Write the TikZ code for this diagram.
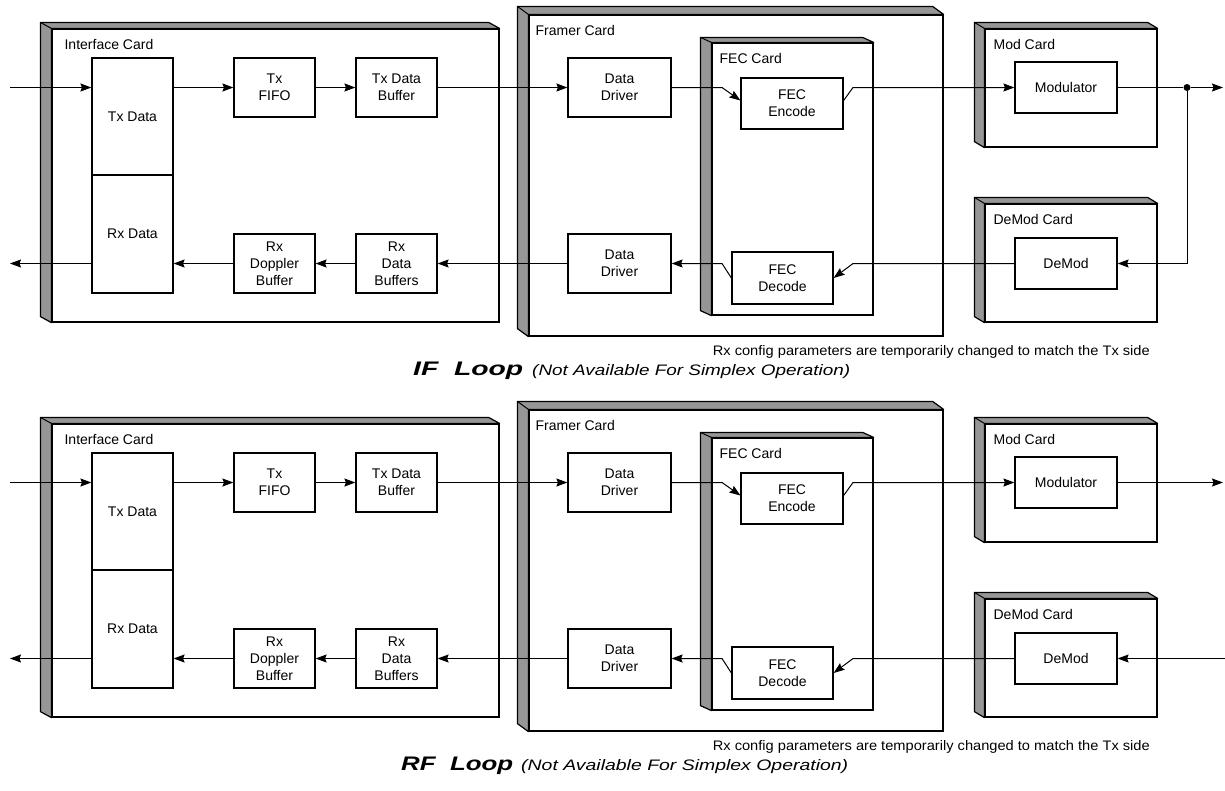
\documentclass[tikz,border=0pt]{standalone}
\usepackage{fontspec}
\setmainfont{Liberation Sans}
\usetikzlibrary{arrows.meta,calc}
\definecolor{cardgray}{RGB}{150,150,150}
\tikzset{
  cardface/.style={draw, fill=white, line width=1.2pt, inner sep=0pt},
  blk/.style={draw, fill=white, line width=1.2pt, inner sep=0pt, align=center,
    font=\fontsize{14}{17}\selectfont},
  lbl/.style={anchor=west, inner sep=0pt, font=\fontsize{14}{16}\selectfont},
  notetext/.style={anchor=base east, inner sep=0pt},
  titletext/.style={anchor=base west, inner sep=0pt},
  flow/.style={line width=1pt, -{Stealth[length=11pt,width=8pt,inset=1.5pt]}},
  wire/.style={line width=1pt},
  jdot/.style={circle, fill, inner sep=0pt, minimum size=7pt},
}
% #1 name, #2 cx, #3 cy, #4 w, #5 h, #6 dx, #7 dy, #8 label, #9 label x offset
\newcommand\mkcard[9]{%
  \node[cardface, minimum width=#4pt, minimum height=#5pt] (#1) at (#2,#3) {};
  \filldraw[fill=cardgray, line width=1.2pt, line join=round]
    (#1.south west) -- ($(#1.south west)+(-#6,-#7)$) -- ($(#1.north west)+(-#6,-#7)$)
    -- ($(#1.north east)+(-#6,-#7)$) -- (#1.north east) -- (#1.north west) -- cycle;
  \draw[line width=1pt] ($(#1.north west)+(-#6,-#7)$) -- (#1.north west);
  \node[lbl] (#1-lbl) at ($(#1.north west)+(#9,16)$) {#8};
}
% #1 prefix, #2 1=IF loop, #3 title word, #4 title x, #5 title width, #6 sub x, #7 sub width
\newcommand\loopdiagram[7]{%
  \mkcard{#1ic}{275.5}{175.5}{447}{293}{11}{6}{Interface Card}{13}
  \mkcard{#1fc}{736}{175.5}{414}{321}{11}{8}{Framer Card}{7}
  \mkcard{#1fec}{792.5}{179}{161}{272}{11}{5}{FEC Card}{8}
  \mkcard{#1mc}{1071}{88}{172}{118}{10}{6}{Mod Card}{9}
  \mkcard{#1dc}{1071}{263}{172}{118}{10}{6}{DeMod Card}{9}
  % blocks
  \node[blk, minimum width=81pt, minimum height=117pt] (#1tx) at (132.5,116.5) {Tx Data};
  \node[blk, minimum width=81pt, minimum height=118pt] (#1rx) at (132.5,234) {Rx Data};
  \node[blk, minimum width=81pt, minimum height=59pt] (#1fifo) at (274.5,87.5) {Tx\\FIFO};
  \node[blk, minimum width=81pt, minimum height=59pt] (#1txb) at (396.5,87.5) {Tx Data\\Buffer};
  \node[blk, minimum width=81pt, minimum height=59pt] (#1dop) at (274.5,263.5) {Rx\\Doppler\\Buffer};
  \node[blk, minimum width=81pt, minimum height=59pt] (#1rxb) at (396.5,263.5) {Rx\\Data\\Buffers};
  \node[blk, minimum width=103pt, minimum height=59pt] (#1dd1) at (619.5,87.5) {Data\\Driver};
  \node[blk, minimum width=103pt, minimum height=59pt] (#1dd2) at (619.5,263.5) {Data\\Driver};
  \node[blk, minimum width=102pt, minimum height=51pt] (#1enc) at (792,103.5) {FEC\\Encode};
  \node[blk, minimum width=101pt, minimum height=52pt] (#1dec) at (782.5,278) {FEC\\Decode};
  \node[blk, minimum width=102pt, minimum height=51pt] (#1mod) at (1066,87.5) {Modulator};
  \node[blk, minimum width=102pt, minimum height=51pt] (#1dem) at (1066,263.5) {DeMod};
  % free ends and bends
  \coordinate (#1in) at (10,87.5);
  \coordinate (#1out) at (10,263.5);
  \coordinate (#1k1) at (722,87.5);
  \coordinate (#1k2) at (853,87.5);
  \coordinate (#1k3) at (853,263.5);
  \coordinate (#1k4) at (722,263.5);
  \coordinate (#1far) at (1223,87.5);
  % transmit path
  \draw[flow] (#1in) -- (#1in -| #1tx.west);
  \draw[flow] (#1in -| #1tx.east) -- (#1fifo.west);
  \draw[flow] (#1fifo.east) -- (#1txb.west);
  \draw[flow] (#1txb.east) -- (#1dd1.west);
  \draw[flow] (#1dd1.east) -- (#1k1) -- ([yshift=3pt]#1enc.west);
  \draw[flow] ([yshift=3pt]#1enc.east) -- (#1k2) -- (#1mod.west);
  \ifnum#2=1
    \node[jdot] (#1dot) at (1187,87.5) {};
    \coordinate (#1tapd) at (1187,263.5);
    \draw[wire] (#1mod.east) -- (#1dot);
    \draw[flow] (#1dot) -- (#1far);
    \draw[flow] (#1dot) -- (#1tapd) -- (#1dem.east);
  \else
    \coordinate (#1rin) at (1225,263.5);
    \draw[flow] (#1mod.east) -- (#1far);
    \draw[flow] (#1rin) -- (#1dem.east);
  \fi
  % receive path
  \draw[flow] (#1dem.west) -- (#1k3) -- (#1dec.east);
  \draw[flow] (#1dec.west) -- (#1k4) -- (#1dd2.east);
  \draw[flow] (#1dd2.west) -- (#1rxb.east);
  \draw[flow] (#1rxb.west) -- (#1dop.east);
  \draw[flow] (#1dop.west) -- (#1dop.west -| #1rx.east);
  \draw[flow] (#1dop.west -| #1rx.west) -- (#1out);
  % texts
  \node[notetext] (#1note) at (1150,355)
    {\resizebox{437pt}{10pt}{Rx config parameters are temporarily changed to match the Tx side}};
  \node[titletext] (#1ttl) at (#4,375)
    {\resizebox{#5pt}{13.5pt}{\bfseries\itshape #3\ \ Loop}};
  \node[titletext] (#1sub) at (#6,375)
    {\resizebox{#7pt}{11pt}{\itshape (Not Available For Simplex Operation)}};
}
\begin{document}
\begin{tikzpicture}[x=1pt,y=-1pt]
  \useasboundingbox (0,0) rectangle (1225,790);
  \begin{scope}
    \loopdiagram{a}{1}{IF}{413}{110}{532}{318}
  \end{scope}
  \begin{scope}[yshift=-395pt]
    \loopdiagram{b}{0}{RF}{401}{112}{521}{327}
  \end{scope}
\end{tikzpicture}
\end{document}
